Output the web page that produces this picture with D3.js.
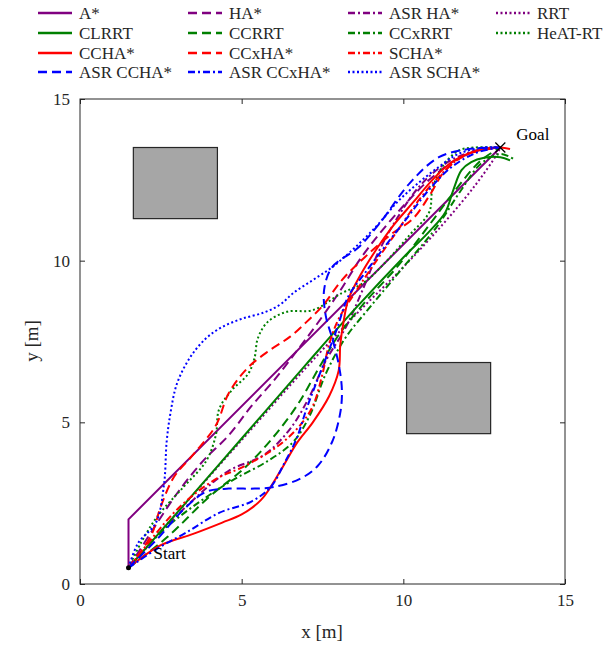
<!DOCTYPE html>
<html><head><meta charset="utf-8">
<script src="https://cdn.jsdelivr.net/npm/d3@7/dist/d3.min.js"></script>
<style>body{margin:0;background:#fff}svg{display:block}text{font-family:"Liberation Serif","Times New Roman",serif;fill:#262626}</style>
</head><body>
<script>
const xTicks=[0,5,10,15];
const yTicks=[0,5,10,15];
const obstacles=[{x0:1.65,x1:4.25,y0:11.3,y1:13.5},{x0:10.1,x1:12.7,y0:4.65,y1:6.85}];
const startPt=[1.5,0.5];
const goalPt=[13,13.5];

const pathAstar=[[1.5,0.5],[1.5,2],[13,13.5]];
const pathHA=[[1.5,0.5],[2.2,1.6],[3.0,2.8],[3.8,3.8],[4.6,4.6],[5.3,5.5],[6.0,6.3],[6.7,7.2],[7.3,8.0],[8.0,9.0],[8.7,10.1],[9.4,11.0],[10.1,11.8],[10.8,12.5],[11.6,13.1],[12.3,13.4],[13,13.5]];
const pathASRHA=[[1.5,0.5],[2.5,1.6],[3.5,2.6],[4.6,3.5],[5.7,4.0],[6.5,4.8],[7.1,5.8],[7.6,6.9],[8.2,7.9],[8.7,9.0],[9.2,10.2],[9.8,11.3],[10.5,12.3],[11.3,13.0],[12.2,13.4],[13,13.5]];
const pathRRT=[[1.5,0.5],[3,2.2],[5,4.45],[7,6.7],[8.5,8.3],[10,9.8],[11.2,11.1],[12.2,12.3],[12.9,13.3],[13,13.5]];
const pathCLRRT=[[1.5,0.5],[3,2.2],[5,4.5],[7,6.8],[8.5,8.5],[10,10.1],[10.8,10.9],[11.3,11.5],[11.55,12.2],[11.8,12.8],[12.1,13.05],[12.5,13.18],[13.0,13.2],[13.3,13.1]];
const pathCCRRT=[[1.5,0.5],[2.7,1.45],[4,2.7],[5.1,3.6],[5.9,4.45],[6.7,5.5],[7.4,6.7],[8.0,7.7],[8.8,8.7],[9.8,9.8],[10.8,11.1],[11.7,12.3],[12.4,13.1],[13,13.5]];
const pathCCxRRT=[[1.5,0.5],[2.5,1.6],[3.5,2.4],[4.7,3.2],[5.8,3.8],[6.6,4.4],[7.1,5.2],[7.6,6.5],[8.2,7.6],[9,8.6],[10,9.8],[11,11],[11.8,12.2],[12.4,13.0],[13.0,13.3],[13.4,13.15]];
const pathHeAT=[[1.5,0.5],[1.9,1.3],[2.4,2.1],[3.2,3.0],[3.9,3.8],[4.2,4.6],[4.3,5.4],[4.7,6.0],[5.2,6.5],[5.4,7.0],[5.5,7.6],[5.8,8.1],[6.4,8.42],[7.2,8.47],[8.1,9.0],[8.75,9.3],[9.4,9.9],[10.2,10.8],[10.8,11.5],[10.9,12.2],[11.2,12.9],[11.7,13.4],[12.2,13.5],[13,13.5]];
const pathCCHA=[[1.5,0.5],[2.5,1.2],[3.5,1.55],[4.4,1.9],[5.0,2.15],[5.6,2.6],[6.2,3.5],[6.7,4.35],[7.2,5.0],[7.7,5.8],[8.0,6.6],[8.05,7.4],[8.15,8.1],[8.3,8.8],[8.7,9.6],[9.2,10.4],[9.7,11.1],[10.3,11.8],[10.9,12.5],[11.5,13.05],[12.1,13.35],[13,13.5],[13.3,13.45]];
const pathCCxHA=[[1.5,0.5],[2.2,1.5],[2.5,2.4],[2.9,3.3],[3.5,4.0],[4.2,4.9],[4.6,5.9],[5.2,6.7],[5.9,7.25],[6.5,7.65],[7.0,8.1],[7.5,8.6],[8.1,9.4],[8.8,10.1],[9.6,10.8],[10.3,11.3],[10.8,12.0],[11.3,12.8],[12.0,13.3],[13,13.5]];
const pathSCHA=[[1.5,0.5],[2.3,1.5],[2.9,2.2],[3.5,2.75],[4.3,3.3],[5.0,3.6],[6.1,4.25],[6.8,4.9],[7.2,5.5],[7.5,6.5],[7.7,7.4],[8.0,8.2],[8.5,9.0],[9.1,9.9],[9.8,10.9],[10.5,11.9],[11.1,12.6],[11.8,13.2],[12.5,13.45],[13,13.5]];
const pathASRCCHA=[[1.5,0.5],[2.4,1.4],[3.2,2.3],[3.9,2.85],[4.6,2.95],[5.4,2.95],[6.0,3.0],[6.8,3.25],[7.35,3.65],[7.8,4.4],[8.05,5.3],[8.1,6.0],[8.0,6.8],[7.8,7.6],[7.6,8.3],[7.55,9.1],[7.8,9.8],[8.6,10.4],[9.3,11.2],[10.2,12.4],[11.1,13.2],[12.0,13.45],[13,13.5]];
const pathASRCCxHA=[[1.5,0.5],[2.4,1.1],[3.3,1.6],[4.3,2.2],[5.3,2.55],[5.9,3.0],[6.3,3.7],[6.7,4.5],[7.0,5.4],[7.3,6.2],[7.65,7.1],[7.95,7.9],[8.3,8.9],[8.8,9.6],[9.4,10.4],[10.1,11.3],[10.8,12.2],[11.5,12.9],[12.3,13.35],[13,13.5]];
const pathASRSCHA=[[1.5,0.5],[1.8,1.27],[2.35,1.9],[2.6,3.1],[2.68,4.4],[2.8,5.3],[3.0,6.2],[3.4,7.0],[3.9,7.6],[4.4,7.95],[5.0,8.2],[5.7,8.4],[6.2,8.65],[6.6,9.0],[7.2,9.4],[7.8,9.8],[8.5,10.4],[9.2,11.1],[9.8,11.8],[10.4,12.35],[11.1,12.9],[11.7,13.3],[12.5,13.5],[13,13.5]];

const seriesNames=["A*","HA*","ASR HA*","RRT","CLRRT","CCRRT","CCxRRT","HeAT-RT","CCHA*","CCxHA*","SCHA*","ASR CCHA*","ASR CCxHA*","ASR SCHA*"];
const seriesData=[pathAstar,pathHA,pathASRHA,pathRRT,pathCLRRT,pathCCRRT,pathCCxRRT,pathHeAT,pathCCHA,pathCCxHA,pathSCHA,pathASRCCHA,pathASRCCxHA,pathASRSCHA];
const seriesColor=["#800080","#800080","#800080","#800080","#008000","#008000","#008000","#008000","#ff0000","#ff0000","#ff0000","#0000ff","#0000ff","#0000ff"];
const seriesStyle=["solid","dash","dashdot","dot","solid","dash","dashdot","dot","solid","dash","dashdot","dash","dashdot","dot"];
const dashMap={solid:null,dash:"9,5",dashdot:"7,3,2,3",dot:"2,2.5"};

const W=612,H=647;
const svg=d3.select("body").append("svg").attr("width",W).attr("height",H);
const x=d3.scaleLinear().domain([0,15]).range([80,565]);
const y=d3.scaleLinear().domain([0,15]).range([584,99]);

svg.selectAll("rect.obs").data(obstacles).enter().append("rect").attr("class","obs")
 .attr("x",d=>x(d.x0)).attr("y",d=>y(d.y1)).attr("width",d=>x(d.x1)-x(d.x0)).attr("height",d=>y(d.y0)-y(d.y1))
 .attr("fill","#a6a6a6").attr("stroke","#262626").attr("stroke-width",1.2);

svg.append("clipPath").attr("id","c").append("rect").attr("x",80).attr("y",99).attr("width",485).attr("height",485);
const g=svg.append("g").attr("clip-path","url(#c)");
const lineLin=d3.line().x(d=>x(d[0])).y(d=>y(d[1]));
const lineCurve=d3.line().x(d=>x(d[0])).y(d=>y(d[1])).curve(d3.curveCatmullRom.alpha(0.5));
seriesData.forEach((pts,i)=>{
  g.append("path").attr("d",(i===0?lineLin:lineCurve)(pts)).attr("fill","none")
   .attr("stroke",seriesColor[i]).attr("stroke-width",2)
   .attr("stroke-dasharray",dashMap[seriesStyle[i]]);
});

svg.append("circle").attr("cx",x(startPt[0])).attr("cy",y(startPt[1])).attr("r",2.5).attr("fill","#000");
const gx=x(goalPt[0]),gy=y(goalPt[1]);
svg.append("path").attr("d",`M${gx-5},${gy-5}L${gx+5},${gy+5}M${gx-5},${gy+5}L${gx+5},${gy-5}`).attr("stroke","#000").attr("stroke-width",1.2);
svg.append("text").attr("x",x(startPt[0])+25).attr("y",y(startPt[1])-9).attr("font-size",17).style("fill","#000").text("Start");
svg.append("text").attr("x",gx+16).attr("y",gy-8).attr("font-size",17).style("fill","#000").text("Goal");

const ax=svg.append("g");
ax.append("rect").attr("x",80).attr("y",99).attr("width",485).attr("height",485).attr("fill","none").attr("stroke","#262626").attr("stroke-width",1);
const axB=d3.axisBottom(x).tickValues(xTicks).tickSizeInner(-5).tickSizeOuter(0).tickPadding(10);
const axL=d3.axisLeft(y).tickValues(yTicks).tickSizeInner(-5).tickSizeOuter(0).tickPadding(10);
const axT=d3.axisTop(x).tickValues(xTicks).tickSizeInner(-5).tickSizeOuter(0).tickFormat("");
const axR=d3.axisRight(y).tickValues(yTicks).tickSizeInner(-5).tickSizeOuter(0).tickFormat("");
function styleAx(sel){sel.select(".domain").remove();sel.selectAll("line").attr("stroke","#262626");sel.selectAll("text").attr("font-size",17).style("font-family","Liberation Serif").style("fill","#262626");}
ax.append("g").attr("transform","translate(0,584)").call(axB).call(styleAx);
ax.append("g").attr("transform","translate(80,0)").call(axL).call(styleAx);
ax.append("g").attr("transform","translate(0,99)").call(axT).call(styleAx);
ax.append("g").attr("transform","translate(565,0)").call(axR).call(styleAx);
svg.append("text").attr("x",322).attr("y",638).attr("text-anchor","middle").attr("font-size",19).text("x [m]");
svg.append("text").attr("transform","translate(38,341) rotate(-90)").attr("text-anchor","middle").attr("font-size",19).text("y [m]");

const colX=[38,188,348,496];
const rowY=[13,33,53,72];
const legOrder=[[0,1,2,3],[4,5,6,7],[8,9,10],[11,12,13]];
legOrder.forEach((row,r)=>row.forEach((si,c)=>{
  const lx=colX[c],ly=rowY[r];
  svg.append("line").attr("x1",lx).attr("x2",lx+34).attr("y1",ly).attr("y2",ly)
   .attr("stroke",seriesColor[si]).attr("stroke-width",2.5).attr("stroke-dasharray",dashMap[seriesStyle[si]]);
  svg.append("text").attr("x",lx+41).attr("y",ly+5.5).attr("font-size",17).text(seriesNames[si]);
}));
</script>
</body></html>
